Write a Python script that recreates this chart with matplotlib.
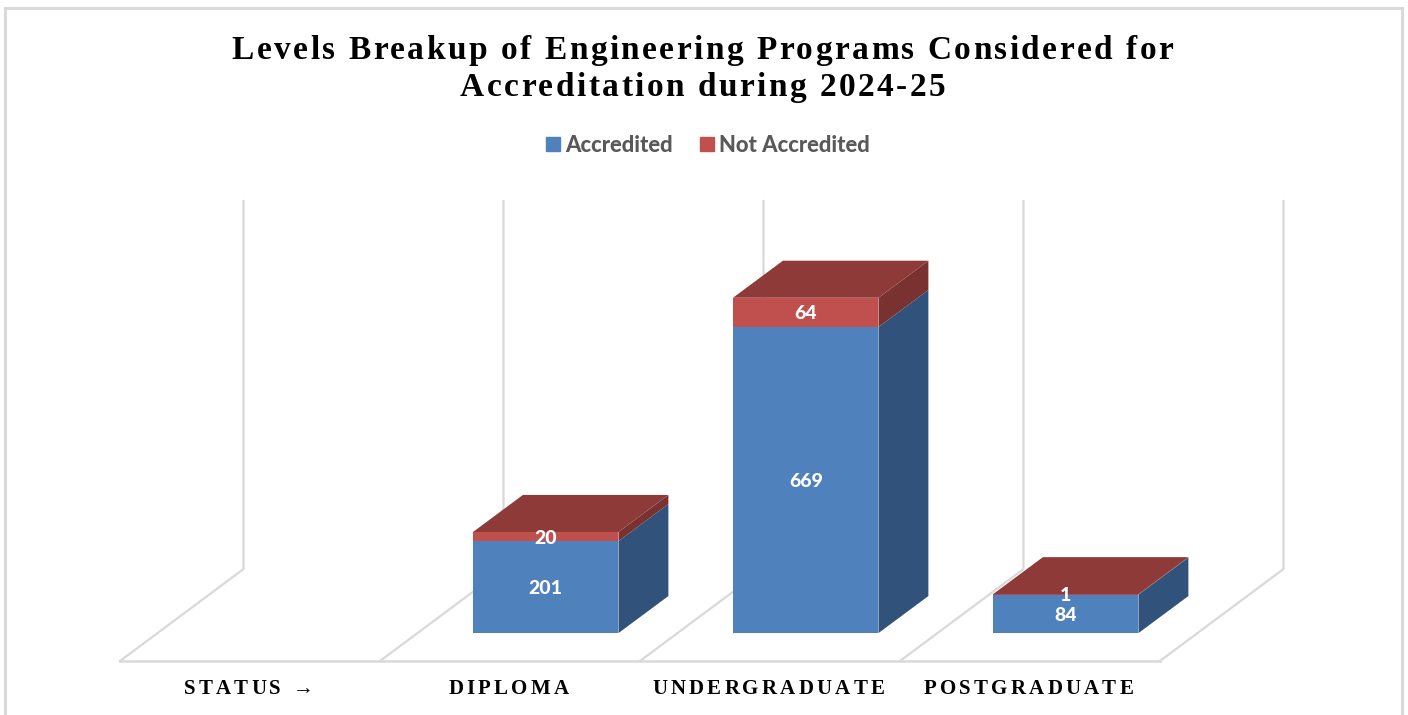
"""
Stacked bar chart of engineering programs by level, drawn with a fake 3D depth.
"""
import matplotlib
matplotlib.use('Agg')
import matplotlib.pyplot as plt
from matplotlib.patches import Patch, Polygon, Rectangle
from matplotlib.text import Text
from matplotlib.transforms import Bbox, IdentityTransform

title_lines = ['Levels Breakup of Engineering Programs Considered for',
               'Accreditation during 2024-25']
categories = ['STATUS →', 'DIPLOMA', 'UNDERGRADUATE', 'POSTGRADUATE']
accredited = [0, 201, 669, 84]
not_accredited = [0, 20, 64, 1]
series_names = ['Accredited', 'Not Accredited']

BLUE, BLUE_SIDE = '#4F81BD', '#31527B'
RED, RED_SIDE, RED_TOP = '#C0504D', '#7A3230', '#8E3A38'
GRID = '#D9D9D9'
SERIF = 'Liberation Serif'

PX_W, PX_H = 1408, 715
BAR_WIDTH = 0.5595
BAR_SHIFT = 0.1375  # bars sit a little way into the floor
DEPTH_X, DEPTH_Y = 0.192, 81  # depth of one bar, in x units and in program counts
FLOOR_X, FLOOR_Y = 0.475, 201  # depth of the floor
FLOOR_LEVEL = -61
LABEL_SHIFT = -0.006  # category labels sit slightly left of their slot


class TrackedText(Text):
    """Text with extra space between letters, which matplotlib has no option for."""

    def __init__(self, *args, tracking=0, **kwargs):
        super().__init__(*args, **kwargs)
        self.tracking = tracking

    def _advances(self, renderer):
        prop = self.get_fontproperties()
        width = lambda s: renderer.get_text_width_height_descent(s, prop, False)[0]
        base = width('xx')
        return [width('x' + c + 'x') - base + self.tracking for c in self.get_text()]

    def draw(self, renderer):
        advances = self._advances(renderer)
        x, y = self.get_transform().transform(self.get_unitless_position())
        x -= (sum(advances) - self.tracking) / 2
        for char, step in zip(self.get_text(), advances):
            piece = Text(x, y, char, transform=IdentityTransform(), color=self.get_color(),
                         fontproperties=self.get_fontproperties(), ha='left', va='baseline')
            piece.set_figure(self.get_figure())
            piece.draw(renderer)
            x += step

    def get_window_extent(self, renderer=None, dpi=None):
        box = super().get_window_extent(renderer, dpi)
        renderer = renderer or self.get_figure()._get_renderer()
        total = sum(self._advances(renderer)) - self.tracking
        x = self.get_transform().transform(self.get_unitless_position())[0]
        return Bbox.from_extents(x - total / 2, box.y0, x + total / 2, box.y1)


def draw_box(ax, x, bottom, top, front, side):
    """One stacked segment: front face plus its right side."""
    left, right = x - BAR_WIDTH / 2, x + BAR_WIDTH / 2
    ax.add_patch(Rectangle((left, bottom), BAR_WIDTH, top - bottom, color=front, lw=0, zorder=3))
    ax.add_patch(Polygon([(right, bottom), (right + DEPTH_X, bottom + DEPTH_Y),
                          (right + DEPTH_X, top + DEPTH_Y), (right, top)],
                         color=side, lw=0, zorder=3))


fig = plt.figure(figsize=(PX_W / 100, PX_H / 100), dpi=100)
ax = fig.add_axes([120 / PX_W, 1 - 661 / PX_H, 1164 / PX_W, 460 / PX_H])
ax.set_xlim(-0.5, 3.977)
ax.set_ylim(FLOOR_LEVEL, 944.5)
ax.axis('off')

# outer frame, its bottom edge is cut off in the picture
fig.add_artist(Rectangle((5 / PX_W, -0.02), 1397 / PX_W, 1.02 - 8 / PX_H, fill=False,
                         edgecolor=GRID, lw=2.2, transform=fig.transFigure))

# floor and back walls
for i in range(len(categories) + 1):
    edge = i - 0.5
    ax.plot([edge, edge + FLOOR_X, edge + FLOOR_X], [FLOOR_LEVEL, FLOOR_LEVEL + FLOOR_Y, ax.get_ylim()[1]],
            color=GRID, lw=1.6, clip_on=False, zorder=1, solid_joinstyle='miter')
ax.plot([-0.5, len(categories) - 0.5], [FLOOR_LEVEL, FLOOR_LEVEL], color=GRID, lw=1.8,
        clip_on=False, zorder=1)

for i, (low, high) in enumerate(zip(accredited, not_accredited)):
    if low + high == 0:
        continue
    x = i + BAR_SHIFT
    total = low + high
    draw_box(ax, x, 0, low, BLUE, BLUE_SIDE)
    draw_box(ax, x, low, total, RED, RED_SIDE)
    left, right = x - BAR_WIDTH / 2, x + BAR_WIDTH / 2
    ax.add_patch(Polygon([(left, total), (right, total), (right + DEPTH_X, total + DEPTH_Y),
                          (left + DEPTH_X, total + DEPTH_Y)], color=RED_TOP, lw=0, zorder=3))
    ax.text(x, low / 2, str(low), color='white', fontsize=14, fontweight=900, family='Lato',
            ha='center', va='center_baseline', zorder=4)
    ax.text(x, low + high / 2, str(high), color='white', fontsize=14, fontweight=900, family='Lato',
            ha='center', va='center_baseline', zorder=4)

for i, label in enumerate(categories):
    ax.add_artist(TrackedText(i + LABEL_SHIFT, -33 / 460, label, tracking=3.2,
                              transform=ax.get_xaxis_transform(), color='black', fontsize=15,
                              fontweight='bold', family=SERIF, clip_on=False))

for line, baseline in zip(title_lines, [59, 96]):
    fig.add_artist(TrackedText(702.5 / PX_W, 1 - baseline / PX_H, line, tracking=2.45,
                               transform=fig.transFigure, color='black', fontsize=24,
                               fontweight='bold', family=SERIF))

fig.legend(handles=[Patch(color=BLUE, label=series_names[0]), Patch(color=RED, label=series_names[1])],
           loc='center', bbox_to_anchor=(708 / PX_W, 1 - 145 / PX_H), ncol=2, frameon=False,
           prop={'family': 'Lato', 'weight': 900, 'size': 15.8}, labelcolor='#595959',
           handlelength=0.64, handleheight=0.64, handletextpad=0.25, columnspacing=1.2)

fig.savefig('out.png', dpi=100, facecolor='white')
